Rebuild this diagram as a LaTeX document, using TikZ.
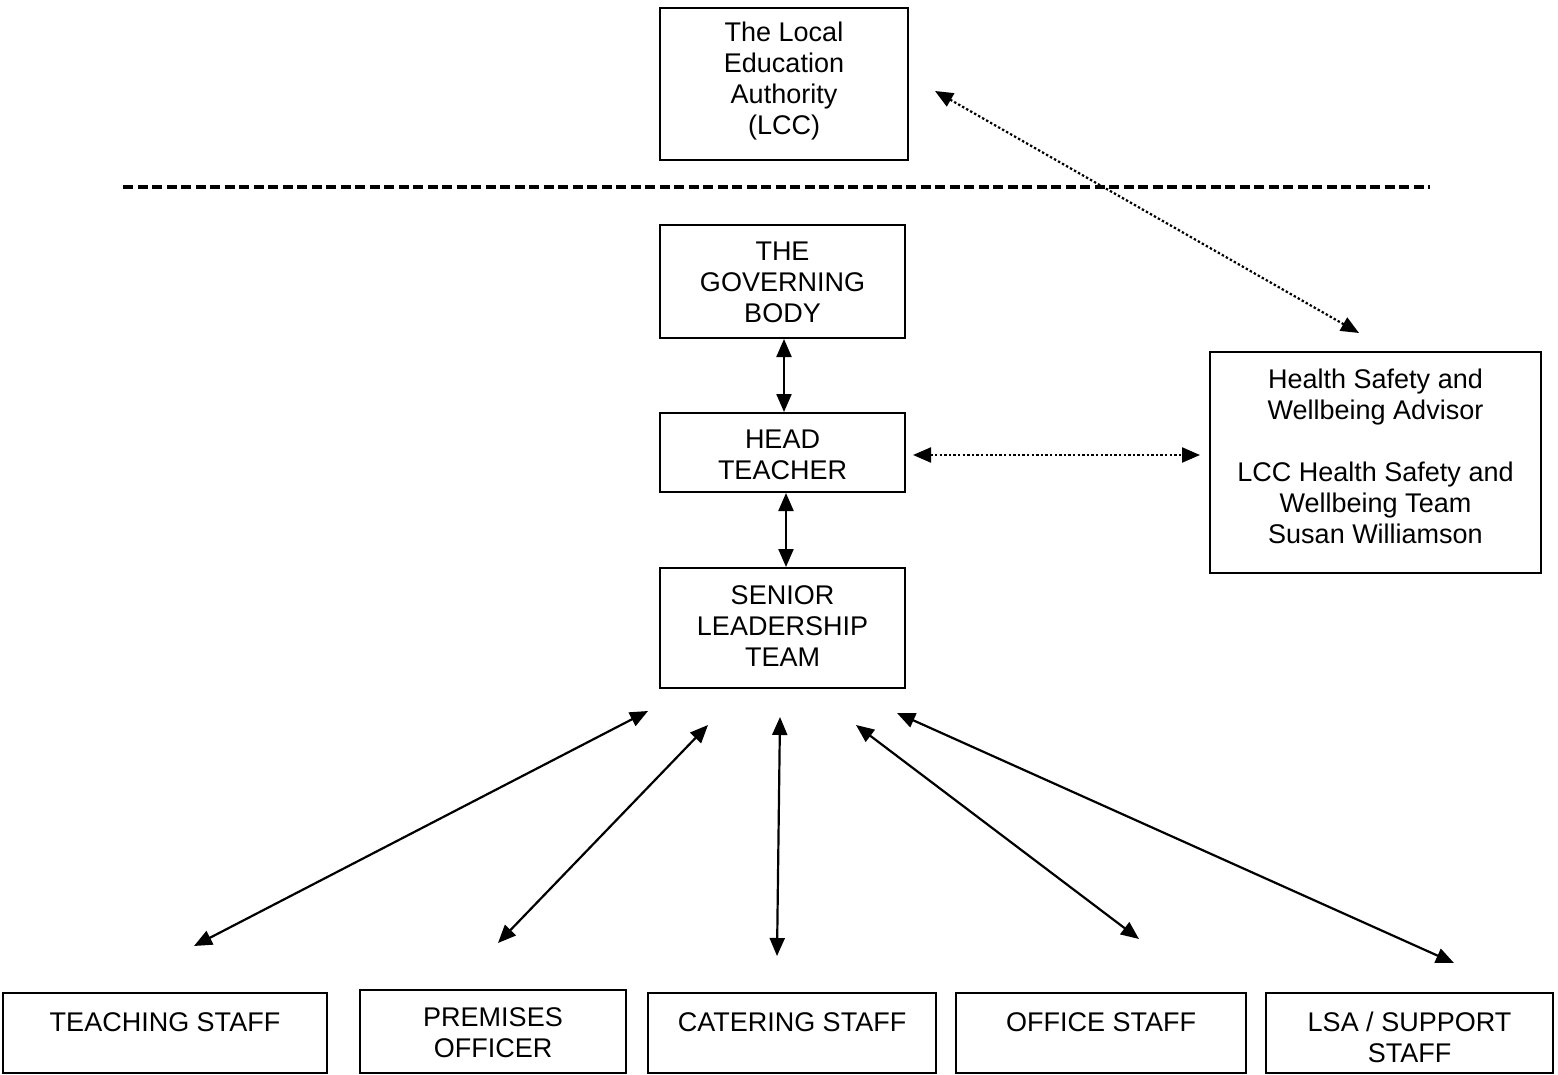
\documentclass[tikz,border=0pt]{standalone}
\usepackage{fontspec}
\setmainfont{Liberation Sans}
\usetikzlibrary{arrows.meta}
\begin{document}
\begin{tikzpicture}[x=1pt,y=-1pt,
  box/.style={draw, line width=1.8pt, inner sep=0pt},
  txt/.style={font=\fontsize{27}{31}\selectfont, align=center, inner sep=0pt},
  link/.style={line width=2.2pt, {Triangle[length=18pt,width=15pt]}-{Triangle[length=18pt,width=15pt]}},
  dotlink/.style={link, dash pattern=on 2.4pt off 2.2pt},
  sep/.style={line width=3.2pt, dash pattern=on 10pt off 4.5pt}]
\useasboundingbox (0,0) rectangle (1558,1075);
% boxes
\node[box, minimum width=248pt, minimum height=152pt] (lea) at (784,84) {};
\node[txt] (leat) at (784,81) {The Local\\Education\\Authority\\(LCC)};
\node[box, minimum width=245pt, minimum height=113pt] (gb) at (782.5,281.5) {};
\node[txt] (gbt) at (782.5,282) {THE\\GOVERNING\\BODY};
\node[box, minimum width=245pt, minimum height=79pt] (ht) at (782.5,452.5) {};
\node[txt] (htt) at (782.5,455) {HEAD\\TEACHER};
\node[box, minimum width=245pt, minimum height=120pt] (slt) at (782.5,628) {};
\node[txt] (sltt) at (782.5,626) {SENIOR\\LEADERSHIP\\TEAM};
\node[box, minimum width=331pt, minimum height=221pt] (hs) at (1375.5,462.5) {};
\node[txt] (hst) at (1375.5,456) {Health Safety and\\Wellbeing Advisor\\[31pt]LCC Health Safety and\\Wellbeing Team\\Susan Williamson};
% bottom boxes
\node[box, minimum width=324pt, minimum height=80pt] (ts) at (165,1033) {};
\node[txt] (tst) at (165,1022) {TEACHING STAFF};
\node[box, minimum width=266pt, minimum height=83pt] (po) at (493,1031.5) {};
\node[txt] (pot) at (493,1032.5) {PREMISES\\OFFICER};
\node[box, minimum width=288pt, minimum height=80pt] (cs) at (792,1033) {};
\node[txt] (cst) at (792,1022) {CATERING STAFF};
\node[box, minimum width=290pt, minimum height=80pt] (os) at (1101,1033) {};
\node[txt] (ost) at (1101,1022) {OFFICE STAFF};
\node[box, minimum width=287pt, minimum height=80pt] (ls) at (1409.5,1033) {};
\node[txt] (lst) at (1409.5,1037.5) {LSA / SUPPORT\\STAFF};
% dashed separator
\coordinate (sepL) at (123,187);
\coordinate (sepR) at (1430,187);
\draw[sep] (sepL) -- (sepR);
% connector end points
\coordinate (leaE) at (935,91);
\coordinate (hsN) at (1359,333);
\coordinate (gbS) at (784,339);
\coordinate (htN) at (784,412);
\coordinate (htE) at (913,455);
\coordinate (hsW) at (1200,455);
\coordinate (htS) at (786,493);
\coordinate (sltN) at (786,567);
\coordinate (a1) at (648,711);
\coordinate (b1) at (194,946);
\coordinate (a2) at (708,725);
\coordinate (b2) at (498,943);
\coordinate (a3) at (780,717);
\coordinate (b3) at (777,956);
\coordinate (a4) at (856,725);
\coordinate (b4) at (1139,939);
\coordinate (a5) at (897,713);
\coordinate (b5) at (1454,963);
% connectors
\draw[dotlink] (leaE) -- (hsN);
\draw[link] (gbS) -- (htN);
\draw[dotlink] (htE) -- (hsW);
\draw[link] (htS) -- (sltN);
\draw[link] (a1) -- (b1);
\draw[link] (a2) -- (b2);
\draw[link] (a3) -- (b3);
\draw[link] (a4) -- (b4);
\draw[link] (a5) -- (b5);
\end{tikzpicture}
\end{document}
